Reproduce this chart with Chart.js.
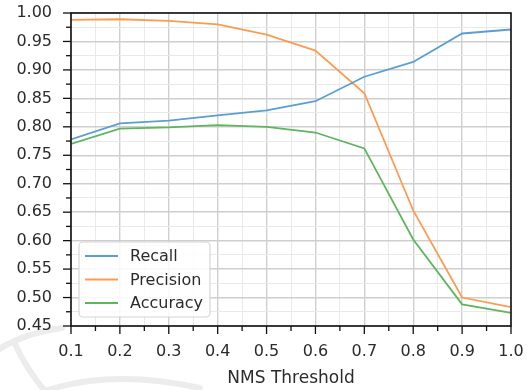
<!DOCTYPE html>
<html>
<head>
<meta charset="utf-8">
<script src="https://cdn.jsdelivr.net/npm/chart.js@4/dist/chart.umd.min.js"></script>
<style>
  body { margin: 0; background: #fff; }
  canvas { display: block; }
</style>
</head>
<body>
<canvas id="chart" width="527" height="390"></canvas>
<script>
var thresholds = [0.1, 0.2, 0.3, 0.4, 0.5, 0.6, 0.7, 0.8, 0.9, 1.0];
var recall    = [0.778, 0.806, 0.811, 0.820, 0.829, 0.845, 0.888, 0.914, 0.964, 0.971];
var precision = [0.988, 0.989, 0.986, 0.980, 0.962, 0.934, 0.859, 0.653, 0.500, 0.483];
var accuracy  = [0.770, 0.797, 0.799, 0.803, 0.800, 0.790, 0.762, 0.602, 0.488, 0.473];
var seriesNames = ['Recall', 'Precision', 'Accuracy'];
var xTitle = 'NMS Threshold';

var font = 'DejaVu Sans';
var textColor = '#2b2b2b';

function pairs(values) {
  return values.map(function(v, i) {
    return { x: thresholds[i], y: v };
  });
}

function isMajorX(v) { return Math.round(v * 100) % 10 === 0; }
function isMajorY(v) { return Math.round(v * 1000) % 50 === 0; }

// faint watermark arcs seen in the bottom-left of the scan
var watermark = {
  id: 'watermark',
  beforeDraw: function(chart) {
    var c = chart.ctx;
    c.save();
    c.strokeStyle = '#ececec';
    c.lineWidth = 6;
    c.lineCap = 'round';
    c.beginPath();
    c.moveTo(-5, 352);
    c.quadraticCurveTo(20, 334, 62, 328);
    c.stroke();
    c.beginPath();
    c.moveTo(14, 342);
    c.quadraticCurveTo(28, 372, 46, 392);
    c.stroke();
    c.beginPath();
    c.moveTo(42, 392);
    c.quadraticCurveTo(110, 368, 200, 388);
    c.stroke();
    c.restore();
  }
};

// axes frame, outside tick marks and the boxed legend
var decorations = {
  id: 'decorations',
  afterDatasetsDraw: function(chart) {
    var c = chart.ctx;
    var a = chart.chartArea;
    var xs = chart.scales.x;
    var ys = chart.scales.y;
    c.save();
    c.strokeStyle = '#111';
    c.lineWidth = 1.6;
    c.strokeRect(a.left, a.top, a.right - a.left, a.bottom - a.top);

    c.lineWidth = 1.3;
    xs.ticks.forEach(function(t) {
      var px = xs.getPixelForValue(t.value);
      var len = isMajorX(t.value) ? 8 : 5;
      c.beginPath();
      c.moveTo(px, a.bottom);
      c.lineTo(px, a.bottom + len);
      c.stroke();
    });
    ys.ticks.forEach(function(t) {
      var py = ys.getPixelForValue(t.value);
      var len = isMajorY(t.value) ? 8 : 5;
      c.beginPath();
      c.moveTo(a.left, py);
      c.lineTo(a.left - len, py);
      c.stroke();
    });

    // legend
    var lx = 79, ly = 242, lw = 131, lh = 75;
    c.fillStyle = 'rgba(255,255,255,0.85)';
    c.strokeStyle = '#d6d6d6';
    c.lineWidth = 1.2;
    c.beginPath();
    c.roundRect(lx, ly, lw, lh, 4);
    c.fill();
    c.stroke();
    c.font = '16px "' + font + '"';
    c.textBaseline = 'middle';
    chart.data.datasets.forEach(function(ds, i) {
      var ry = 256 + i * 23.5;
      c.strokeStyle = ds.borderColor;
      c.lineWidth = 1.8;
      c.beginPath();
      c.moveTo(85, ry);
      c.lineTo(118, ry);
      c.stroke();
      c.fillStyle = textColor;
      c.fillText(ds.label, 130, ry + 1);
    });
    c.restore();
  }
};

var ctx = document.getElementById('chart').getContext('2d');
var chart = new Chart(ctx, {
  type: 'line',
  data: {
    datasets: [
      { label: seriesNames[0], data: pairs(recall), borderColor: '#5a9fd2' },
      { label: seriesNames[1], data: pairs(precision), borderColor: '#fd9b50' },
      { label: seriesNames[2], data: pairs(accuracy), borderColor: '#5db65d' }
    ]
  },
  options: {
    responsive: false,
    animation: false,
    layout: { padding: { top: 13, right: 16, left: 0, bottom: 0 } },
    elements: {
      line: { borderWidth: 1.8, tension: 0, fill: false },
      point: { radius: 0 }
    },
    plugins: {
      legend: { display: false },
      tooltip: { enabled: false }
    },
    scales: {
      x: {
        type: 'linear',
        min: 0.1,
        max: 1.0,
        afterBuildTicks: function(scale) {
          var ticks = [];
          for (var i = 2; i <= 20; i++) ticks.push({ value: i / 20 });
          scale.ticks = ticks;
        },
        afterFit: function(scale) {
          scale.height = 64;
          scale.paddingLeft = 0;
          scale.paddingRight = 0;
        },
        border: { display: false },
        grid: {
          drawTicks: false,
          color: function(c) { return isMajorX(c.tick.value) ? '#cfcfcf' : '#e9e9e9'; },
          lineWidth: function(c) { return isMajorX(c.tick.value) ? 1.4 : 1; }
        },
        ticks: {
          autoSkip: false,
          maxRotation: 0,
          padding: 16,
          color: textColor,
          font: { family: font, size: 16 },
          callback: function(v) { return isMajorX(v) ? v.toFixed(1) : ''; }
        },
        title: {
          display: true,
          text: xTitle,
          color: textColor,
          font: { family: font, size: 17 },
          padding: { top: 0, bottom: 1 }
        }
      },
      y: {
        min: 0.45,
        max: 1.0,
        afterBuildTicks: function(scale) {
          var ticks = [];
          for (var i = 18; i <= 40; i++) ticks.push({ value: i / 40 });
          scale.ticks = ticks;
        },
        afterFit: function(scale) {
          scale.width = 71;
          scale.paddingTop = 0;
          scale.paddingBottom = 0;
        },
        border: { display: false },
        grid: {
          drawTicks: false,
          color: function(c) { return isMajorY(c.tick.value) ? '#cfcfcf' : '#e9e9e9'; },
          lineWidth: function(c) { return isMajorY(c.tick.value) ? 1.4 : 1; }
        },
        ticks: {
          autoSkip: false,
          padding: 19,
          color: textColor,
          font: { family: font, size: 16 },
          callback: function(v) { return isMajorY(v) ? v.toFixed(2) : ''; }
        }
      }
    }
  },
  plugins: [watermark, decorations]
});
</script>
</body>
</html>
